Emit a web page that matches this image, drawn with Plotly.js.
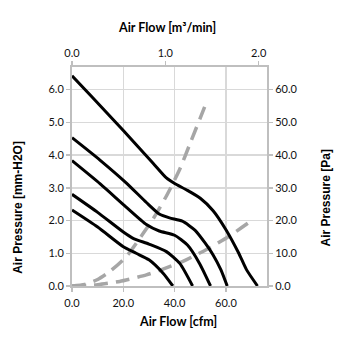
<!DOCTYPE html>
<html>
<head>
<meta charset="utf-8">
<script src="https://cdn.plot.ly/plotly-3.0.1.min.js"></script>
<style>html,body{margin:0;padding:0;background:#fff;}#chart{width:355px;height:355px;}</style>
</head>
<body>
<div id="chart"></div>
<script>
// Fan performance curves: airflow [cfm] vs static pressure [mm-H2O]
var curve1X = [0, 8, 20, 31.6, 36.8, 40, 45, 50, 55, 60, 65, 68, 72.3];
var curve1Y = [6.42, 5.76, 4.75, 3.75, 3.3, 3.13, 2.92, 2.68, 2.3, 1.72, 1.0, 0.5, 0];
var curve2X = [0, 11, 21, 29, 34, 38, 43, 48, 52, 55, 58, 60.5];
var curve2Y = [4.53, 3.84, 3.16, 2.55, 2.2, 2.08, 1.98, 1.7, 1.3, 0.95, 0.5, 0];
var curve3X = [0, 11, 21, 29, 34, 40, 45, 49.7, 54];
var curve3Y = [3.83, 3.12, 2.42, 1.88, 1.68, 1.55, 1.25, 0.69, 0];
var curve4X = [0, 10, 20, 24, 30, 36.8, 42, 47];
var curve4Y = [2.80, 2.25, 1.65, 1.45, 1.28, 1.05, 0.69, 0];
var curve5X = [0, 10, 20, 25, 30, 35.5, 39.3];
var curve5Y = [2.32, 1.8, 1.2, 1.0, 0.8, 0.39, 0];
// System impedance curves (dashed)
var imp1X = [0, 5, 10, 15, 21.2, 27.7, 32, 36.8, 41.9, 46, 51.7];
var imp1Y = [0, 0.05, 0.2, 0.46, 0.9, 1.6, 2.1, 2.75, 3.55, 4.35, 5.47];
var imp2X = [0, 10, 18.6, 29, 34.2, 41.9, 44.5, 53, 61.4, 71.1];
var imp2Y = [0, 0.04, 0.14, 0.34, 0.48, 0.71, 0.8, 1.14, 1.53, 2.06];
// Axis ranges and labels
var xRangeCfm = [0, 76];
var yRangeMm = [0, 6.69];
var xRangeM3 = [0, 2.09];
var yRangePa = [0, 66.9];
var titleTop = 'Air Flow [m³/min]';
var titleBottom = 'Air Flow [cfm]';
var titleLeft = 'Air Pressure [mm-H2O]';
var titleRight = 'Air Pressure [Pa]';

var tickFont = {family: 'Lato, "Liberation Sans Narrow", Arial, sans-serif', size: 11, color: '#111111'};
var gridC = '#d9d9d9', axC = '#bfbfbf';

function solid(x, y) {
  return {x: x, y: y, type: 'scatter', mode: 'lines', xaxis: 'x', yaxis: 'y',
    line: {color: '#000000', width: 3, shape: 'spline', smoothing: 0.6}, hoverinfo: 'skip', showlegend: false};
}
function dashed(x, y) {
  return {x: x, y: y, type: 'scatter', mode: 'lines', xaxis: 'x', yaxis: 'y',
    line: {color: '#a6a6a6', width: 3.5, dash: '14px,8px', shape: 'spline', smoothing: 0.6}, hoverinfo: 'skip', showlegend: false};
}
var traces = [
  dashed(imp1X, imp1Y), dashed(imp2X, imp2Y),
  solid(curve1X, curve1Y), solid(curve2X, curve2Y), solid(curve3X, curve3Y),
  solid(curve4X, curve4Y), solid(curve5X, curve5Y),
  {x: [xRangeM3[0]], y: [yRangePa[0]], type: 'scatter', mode: 'markers', xaxis: 'x2', yaxis: 'y2',
   marker: {size: 1, opacity: 0}, hoverinfo: 'skip', showlegend: false}
];

var titleFontX = {family: 'Lato, Arial, sans-serif', size: 12.5, color: '#000'};
var titleFontY = {family: '"Liberation Sans", Arial, sans-serif', size: 12, color: '#000'};
var layout = {
  width: 355, height: 355,
  margin: {l: 72, r: 87.5, t: 66.7, b: 69, pad: 0},
  paper_bgcolor: '#ffffff', plot_bgcolor: '#ffffff',
  showlegend: false,
  xaxis: {range: xRangeCfm, tickvals: [0, 20, 40, 60], tickformat: '.1f', tickfont: tickFont,
    showgrid: true, gridcolor: gridC, gridwidth: 1.5, showline: true, linecolor: axC, linewidth: 2,
    ticks: 'outside', ticklen: 4, tickcolor: axC, tickwidth: 1.5, zeroline: false, fixedrange: true, ticklabelstandoff: 2},
  yaxis: {range: yRangeMm, tickvals: [0, 1, 2, 3, 4, 5, 6], tickformat: '.1f', tickfont: tickFont,
    showgrid: true, gridcolor: gridC, gridwidth: 1.5, showline: true, linecolor: axC, linewidth: 2,
    ticks: 'outside', ticklen: 4, tickcolor: axC, tickwidth: 1.5, zeroline: false, fixedrange: true},
  xaxis2: {range: xRangeM3, overlaying: 'x', side: 'top', anchor: 'y', tickvals: [0, 1, 2], tickformat: '.1f', tickfont: tickFont,
    showgrid: false, showline: true, linecolor: axC, linewidth: 2,
    ticks: 'outside', ticklen: 4, tickcolor: axC, tickwidth: 1.5, zeroline: false, fixedrange: true},
  yaxis2: {range: yRangePa, overlaying: 'y', side: 'right', anchor: 'x', tickvals: [0, 10, 20, 30, 40, 50, 60], tickformat: '.1f', tickfont: tickFont,
    showgrid: false, showline: true, linecolor: axC, linewidth: 2,
    ticks: 'outside', ticklen: 4, tickcolor: axC, tickwidth: 1.5, zeroline: false, fixedrange: true},
  annotations: [
    {text: '<b>' + titleTop + '</b>', xref: 'paper', yref: 'paper', x: 0.488, y: 1.181, xanchor: 'center', yanchor: 'middle', showarrow: false, font: titleFontX},
    {text: '<b>' + titleBottom + '</b>', xref: 'paper', yref: 'paper', x: 0.544, y: -0.163, xanchor: 'center', yanchor: 'middle', showarrow: false, font: titleFontX},
    {text: '<b>' + titleLeft + '</b>', xref: 'paper', yref: 'paper', x: -0.281, y: 0.358, xanchor: 'center', yanchor: 'middle', textangle: -90, showarrow: false, font: titleFontY},
    {text: '<b>' + titleRight + '</b>', xref: 'paper', yref: 'paper', x: 1.303, y: 0.40, xanchor: 'center', yanchor: 'middle', textangle: -90, showarrow: false, font: titleFontY}
  ]
};
Plotly.newPlot('chart', traces, layout, {staticPlot: true, displayModeBar: false});
</script>
</body>
</html>
